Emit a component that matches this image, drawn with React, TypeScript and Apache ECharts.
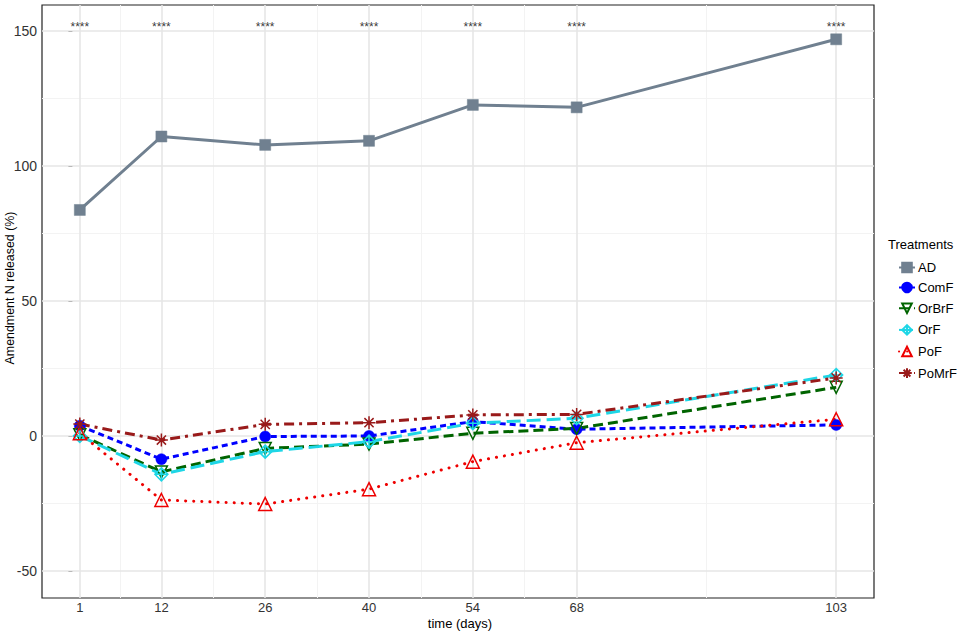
import React, { useEffect, useRef } from "react";
import * as echarts from "echarts";

const days = [1, 12, 26, 40, 54, 68, 103];
const adValues = [83.7, 110.9, 107.8, 109.3, 122.6, 121.7, 146.9];
const comfValues = [3.8, -8.6, -0.2, 0, 5.3, 2.5, 4.1];
const orbrfValues = [0.5, -13.3, -4.6, -3.0, 1.0, 2.8, 18.0];
const orfValues = [0, -14.2, -5.8, -2.1, 4.7, 6.6, 22.6];
const pofValues = [1.0, -23.7, -25.2, -19.7, -9.5, -2.5, 6.2];
const pomrfValues = [4.4, -1.5, 4.3, 4.9, 7.8, 8.0, 21.5];
const significance = ["****", "****", "****", "****", "****", "****", "****"];
const significanceY = 151.5;
const xMinorGrid = [6.5, 19, 33, 47, 61, 85.5];
const yTicks = [-50, 0, 50, 100, 150];
const yMinorGrid = [-25, 25, 75, 125];

const FONT = "'Liberation Sans', Arial, sans-serif";

const asteriskPath =
  "path://M0,-6L0,6M-6,0L6,0M-4.24,-4.24L4.24,4.24M-4.24,4.24L4.24,-4.24";
const diamondPlusPath = "path://M0,-6L6,0L0,6L-6,0ZM0,-6L0,6M-6,0L6,0";

function pairs(vals: number[]) {
  return days.map((d, i) => [d, vals[i]]);
}

export default function App() {
  const ref = useRef<HTMLDivElement>(null);
  useEffect(() => {
    if (!ref.current) return;
    const chart = echarts.init(ref.current, undefined, { renderer: "svg" });
    const majorLine = { color: "#e6e6e6", width: 1.6, type: "solid" };
    const minorLine = { color: "#f3f3f3", width: 1, type: "solid" };
    const gridData: any[] = [];
    xMinorGrid.forEach((v) => gridData.push({ xAxis: v, lineStyle: minorLine }));
    yMinorGrid.forEach((v) => gridData.push({ yAxis: v, lineStyle: minorLine }));
    days.forEach((v) => gridData.push({ xAxis: v, lineStyle: majorLine }));
    yTicks.forEach((v) => gridData.push({ yAxis: v, lineStyle: majorLine }));

    const mk = (
      name: string,
      vals: number[],
      color: string,
      lineType: any,
      symbol: string,
      symbolSize: number,
      filled: boolean,
      extra: any = {}
    ) => ({
      name,
      type: "line",
      data: pairs(vals),
      symbol,
      symbolSize,
      z: 3,
      lineStyle: { color, width: 3, type: lineType, cap: "butt", ...(extra.lineStyle || {}) },
      itemStyle: filled
        ? { color, borderColor: color, borderWidth: 0.5 }
        : { color: "none", borderColor: color, borderWidth: 1.5 },
      emphasis: { disabled: true },
      ...(extra.series || {}),
    });

    chart.setOption({
      animation: false,
      textStyle: { fontFamily: FONT },
      title: {
        text: "Treatments",
        left: 883,
        top: 233,
        textStyle: { fontSize: 13, fontWeight: "normal", color: "#000", fontFamily: FONT },
      },
      legend: {
        orient: "vertical",
        left: 893,
        top: 256,
        itemWidth: 16,
        itemHeight: 12,
        itemGap: 7,
        textStyle: { fontSize: 13, color: "#000", fontFamily: FONT, padding: [0, 0, 0, -2] },
        data: ["AD", "ComF", "OrBrF", "OrF", "PoF", "PoMrF"],
      },
      graphic: [
        {
          type: "text",
          x: 10,
          y: 288,
          rotation: Math.PI / 2,
          silent: true,
          style: {
            text: "Amendment N released (%)",
            fontSize: 12.4,
            fontFamily: FONT,
            fill: "#000",
            align: "center",
            verticalAlign: "middle",
          },
        },
        {
          type: "text",
          x: 460,
          y: 623.5,
          silent: true,
          style: {
            text: "time (days)",
            fontSize: 13,
            fontFamily: FONT,
            fill: "#000",
            align: "center",
            verticalAlign: "middle",
          },
        },
      ],
      grid: {
        left: 42,
        right: 83,
        top: 5,
        bottom: 35,
        show: true,
        borderColor: "#222",
        borderWidth: 1.2,
        backgroundColor: "#fff",
        containLabel: false,
        outerBoundsMode: "none",
      },
      xAxis: {
        type: "value",
        min: -4.1,
        max: 108.1,
        axisLine: { show: false },
        axisTick: { show: true, customValues: days, length: 4, lineStyle: { color: "#333", width: 1 } },
        axisLabel: { customValues: days, fontSize: 13, color: "#333", margin: 3, fontFamily: FONT },
        splitLine: { show: false },
        minorTick: { show: false },
      },
      yAxis: {
        type: "value",
        min: -60,
        max: 159.6,
        axisLine: { show: false },
        axisTick: { show: true, customValues: yTicks, length: 4, lineStyle: { color: "#333", width: 1 } },
        axisLabel: { customValues: yTicks, fontSize: 14, color: "#333", margin: 5, fontFamily: FONT },
        splitLine: { show: false },
        minorTick: { show: false },
      },
      series: [
        {
          name: "grid",
          type: "line",
          data: [],
          z: 1,
          silent: true,
          markLine: {
            silent: true,
            z: 1,
            symbol: ["none", "none"],
            label: { show: false },
            animation: false,
            data: gridData,
          },
        },
        mk("AD", adValues, "#708090", "solid", "rect", 11, true),
        mk("ComF", comfValues, "#0000ff", [6, 4], "circle", 11, true),
        mk("OrBrF", orbrfValues, "#006400", [10, 5], "triangle", 12, false, {
          series: { symbolRotate: 180 },
        }),
        mk("OrF", orfValues, "#1ed6e6", [14, 6], diamondPlusPath, 13, false),
        mk("PoF", pofValues, "#ee0000", [0.1, 8], "triangle", 13, false, {
          lineStyle: { cap: "round" },
        }),
        mk("PoMrF", pomrfValues, "#991a1a", [10, 5, 3, 5], asteriskPath, 13, false),
        {
          name: "sig",
          type: "scatter",
          data: days.map((d, i) => ({ value: [d, significanceY], label: { formatter: significance[i] } })),
          symbolSize: 1,
          itemStyle: { color: "rgba(0,0,0,0)" },
          silent: true,
          z: 4,
          label: {
            show: true,
            position: "inside",
            fontSize: 12,
            color: "#000",
            fontFamily: FONT,
          },
        },
      ],
    });
    return () => chart.dispose();
  }, []);
  return (
    <div
      ref={ref}
      style={{ position: "fixed", left: 0, top: 0, width: 957, height: 633, background: "#fff" }}
    />
  );
}
